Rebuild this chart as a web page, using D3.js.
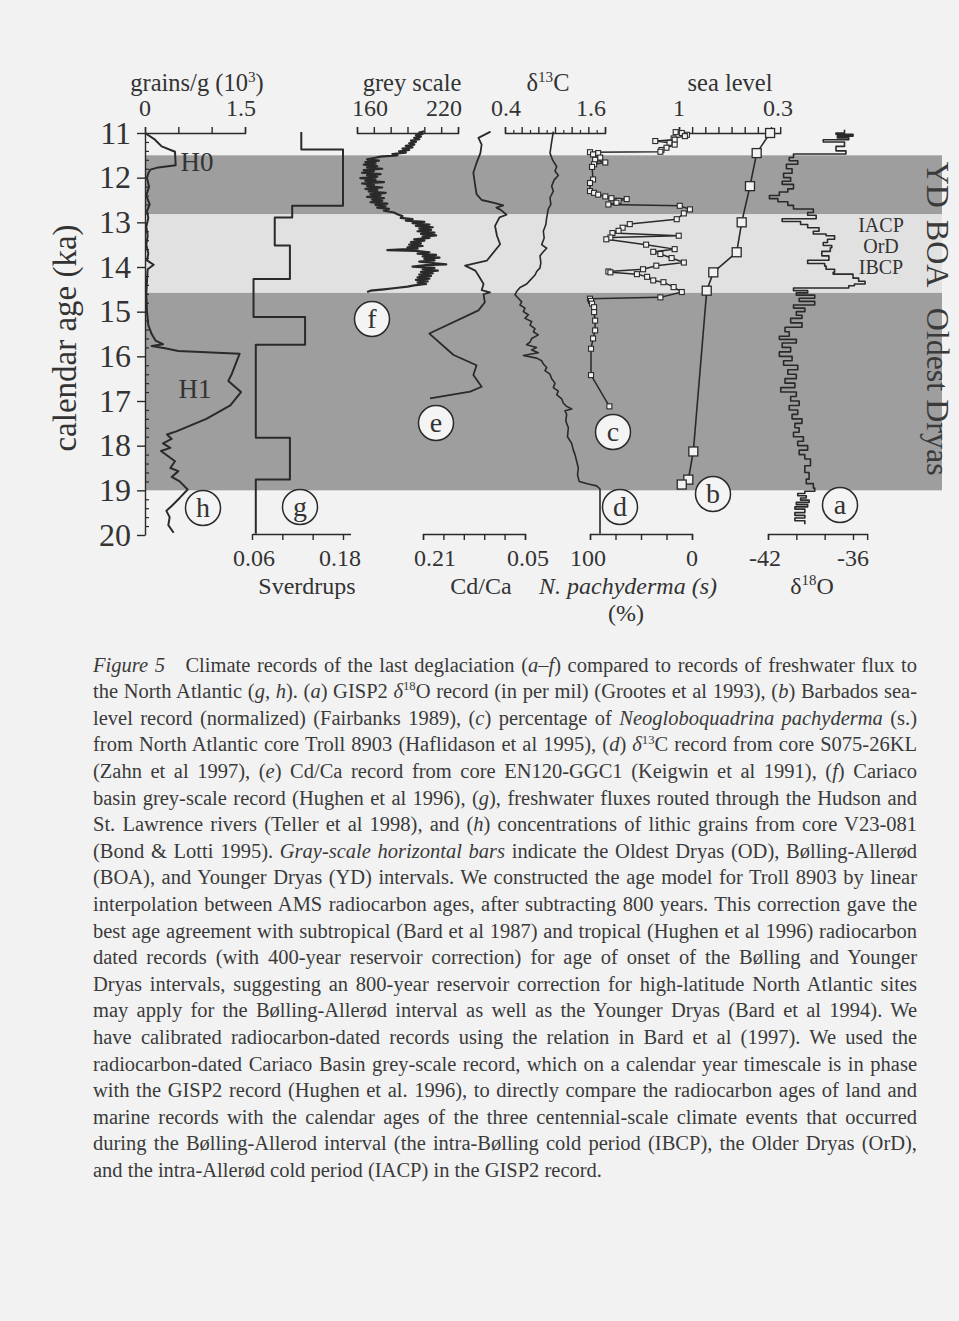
<!DOCTYPE html>
<html><head><meta charset="utf-8">
<script src="https://cdn.jsdelivr.net/npm/d3@7"></script>
<style>
html,body{margin:0;padding:0;background:#f2f2f2;}
svg{display:block;}
</style>
</head><body>
<svg id="chart" width="959" height="1321"></svg>
<script>
// ---------------- DATA ----------------
const ageTicks = [11,12,13,14,15,16,17,18,19,20];
const bandFrom = [11.5, 12.82, 14.58];
const bandTo   = [12.82, 14.58, 19.0];
const bandShade = ["dark","light","dark"];
const bandName = ["YD","BOA","Oldest Dryas"];
const events = ["IACP","OrD","IBCP"];

// (h) lithic grains, 10^3 grains/g  [age ka, value]
const grains = [[11.0,0],[11.15,0.15],[11.3,0.25],[11.42,0.45],[11.72,0.46],[11.77,0.2],[11.82,0.08],[11.9,0.05],[12.0,0.03],[12.2,0.06],[12.4,0.02],[12.6,0.07],[12.75,0.03],[12.9,0.05],[13.1,0.02],[13.3,0.04],[13.5,0.02],[13.7,0.05],[13.85,0.03],[13.95,0.13],[14.05,0.04],[14.3,0.03],[14.6,0.02],[15.0,0.03],[15.3,0.05],[15.5,0.1],[15.65,0.16],[15.73,0.27],[15.77,0.1],[15.82,0.3],[15.88,0.5],[15.94,1.42],[16.4,1.3],[16.55,1.25],[16.8,1.44],[17.1,1.28],[17.4,0.92],[17.68,0.47],[17.75,0.33],[17.85,0.4],[17.95,0.27],[18.05,0.38],[18.12,0.24],[18.35,0.45],[18.5,0.38],[18.57,0.5],[18.7,0.4],[18.8,0.52],[18.98,0.64],[19.17,0.52],[19.35,0.4],[19.46,0.32],[19.6,0.37],[19.78,0.35],[19.95,0.43]];
const grainsTicks = [0,0.5,1,1.5];
const grainsLabels = [0,1.5];

// (g) freshwater flux, Sverdrups (value holds until next age)
const sverdrups = [[10.98,0.125],[11.37,0.18],[12.63,0.113],[12.89,0.09],[13.52,0.11],[14.27,0.062],[15.12,0.13],[15.74,0.065],[17.82,0.11],[18.76,0.065],[19.97,0.065]];
const sverdrupTicks = [0.06,0.10,0.14,0.18];
const sverdrupLabels = [0.06,0.18];

// (f) Cariaco grey scale
const greyScale = [[10.96,200],[10.99,197],[11.02,199],[11.05,195],[11.08,198],[11.11,194],[11.14,197],[11.17,192],[11.2,195],[11.23,191],[11.26,194],[11.29,189],[11.32,193],[11.35,187],[11.38,191],[11.41,185],[11.44,189],[11.47,181],[11.5,184],[11.53,174],[11.56,170],[11.59,166],[11.62,173],[11.65,165],[11.68,171],[11.71,164],[11.74,172],[11.77,166],[11.8,175],[11.83,164],[11.86,170],[11.89,163],[11.92,174],[11.95,166],[11.98,172],[12.01,162],[12.04,171],[12.07,165],[12.1,176],[12.13,163],[12.16,170],[12.19,166],[12.22,175],[12.25,165],[12.28,172],[12.31,167],[12.34,177],[12.37,168],[12.4,174],[12.43,166],[12.46,176],[12.49,169],[12.52,175],[12.55,168],[12.58,178],[12.61,171],[12.64,177],[12.67,172],[12.7,179],[12.74,176],[12.78,182],[12.82,184],[12.86,187],[12.9,186],[12.93,193],[12.96,189],[12.99,200],[13.02,193],[13.05,203],[13.08,195],[13.11,205],[13.14,197],[13.17,204],[13.2,196],[13.23,206],[13.26,198],[13.29,207],[13.32,199],[13.35,203],[13.38,194],[13.41,200],[13.44,192],[13.47,198],[13.5,191],[13.53,199],[13.56,190],[13.59,196],[13.62,178],[13.64,195],[13.67,203],[13.7,196],[13.73,207],[13.76,199],[13.79,209],[13.82,200],[13.85,206],[13.88,197],[13.91,205],[13.94,213],[13.96,201],[13.99,193],[14.02,206],[14.05,199],[14.08,208],[14.11,198],[14.14,205],[14.17,197],[14.2,204],[14.23,196],[14.26,203],[14.29,195],[14.32,202],[14.35,196],[14.38,201],[14.41,194],[14.44,190],[14.47,183],[14.5,176],[14.53,168],[14.56,166]];
const greyTicks = [160,170,180,190,200,210,220];
const greyLabels = [160,220];

// (e) Cd/Ca
const cdca = [[10.97,0.104],[11.11,0.123],[11.26,0.118],[11.45,0.12],[11.67,0.126],[11.89,0.131],[12.19,0.128],[12.37,0.126],[12.5,0.118],[12.56,0.1],[12.62,0.084],[12.67,0.095],[12.72,0.088],[12.83,0.079],[12.89,0.09],[13.08,0.097],[13.3,0.094],[13.49,0.089],[13.86,0.11],[13.97,0.144],[14.08,0.128],[14.19,0.123],[14.38,0.115],[14.52,0.118],[14.57,0.105],[14.61,0.115],[14.79,0.113],[14.97,0.123],[15.49,0.2],[15.97,0.162],[16.2,0.126],[16.42,0.131],[16.68,0.118],[16.79,0.136],[16.94,0.199]];
const cdcaTicks = [0.21,0.178,0.146,0.114,0.082,0.05];
const cdcaLabels = [0.21,0.05];

// (d) delta13C
const d13c = [[10.97,0.98],[11.2,0.96],[11.45,0.94],[11.6,0.97],[11.75,1.02],[11.85,1.0],[11.95,1.04],[12.05,0.99],[12.19,0.96],[12.3,0.98],[12.45,0.94],[12.6,0.95],[12.7,0.92],[12.9,0.9],[13.05,0.89],[13.2,0.86],[13.35,0.87],[13.5,0.84],[13.58,0.9],[13.66,0.86],[13.75,0.82],[13.9,0.83],[14.02,0.82],[14.1,0.78],[14.18,0.76],[14.3,0.7],[14.38,0.66],[14.46,0.58],[14.55,0.54],[14.62,0.52],[14.7,0.56],[14.78,0.6],[14.85,0.58],[14.92,0.64],[15.0,0.62],[15.07,0.68],[15.15,0.64],[15.22,0.72],[15.3,0.7],[15.38,0.76],[15.45,0.74],[15.52,0.8],[15.6,0.72],[15.68,0.7],[15.74,0.66],[15.8,0.78],[15.86,0.72],[15.92,0.8],[15.98,0.62],[16.04,0.78],[16.1,0.84],[16.17,0.86],[16.25,0.9],[16.32,0.88],[16.4,0.94],[16.5,0.96],[16.6,1.0],[16.7,0.98],[16.78,1.04],[16.86,1.02],[16.95,1.08],[17.05,1.1],[17.12,1.14],[17.18,1.2],[17.22,1.12],[17.3,1.14],[17.45,1.13],[17.6,1.16],[17.8,1.15],[17.95,1.2],[18.1,1.22],[18.2,1.24],[18.35,1.26],[18.5,1.28],[18.65,1.27],[18.8,1.29],[18.86,1.4],[18.9,1.5],[18.97,1.54],[19.97,1.54]];
const d13cMajor = [0.4,0.6,0.8,1.0,1.2,1.4,1.6];
const d13cMinor = [0.5,0.7,0.9,1.1,1.3,1.5];
const d13cLabels = [0.4,1.6];

// (c) N. pachyderma (s) %
const pachy = [[10.98,16],[11.0,10],[11.04,5],[11.07,7],[11.12,18],[11.15,17],[11.18,36],[11.22,22],[11.26,17],[11.33,25],[11.38,30],[11.42,31],[11.43,100],[11.45,92],[11.48,97],[11.55,90],[11.6,95],[11.66,85],[11.7,96],[11.76,98],[12.04,97],[12.12,100],[12.3,100],[12.34,96],[12.38,92],[12.42,85],[12.46,79],[12.48,64],[12.52,72],[12.56,74],[12.6,82],[12.63,12],[12.71,2],[12.8,8],[12.93,15],[13.04,61],[13.12,68],[13.19,72],[13.24,78],[13.3,13],[13.34,80],[13.38,84],[13.5,45],[13.6,17],[13.66,38],[13.71,31],[13.8,20],[13.9,8],[13.97,35],[14.05,48],[14.1,82],[14.12,80],[14.16,54],[14.22,44],[14.3,38],[14.34,28],[14.45,18],[14.56,10],[14.68,31],[14.71,100],[14.76,99],[14.82,98],[14.9,96],[15.01,96],[15.2,95],[15.42,95],[15.6,97],[15.83,99],[16.42,99],[17.12,81]];
const pachyTicks = [100,75,50,25,0];
const pachyLabels = [100,0];

// (b) Barbados sea level (normalized)
const seaLevel = [[11.0,0.307],[11.45,0.409],[12.19,0.46],[13.0,0.523],[13.67,0.561],[14.12,0.739],[14.53,0.789],[18.13,0.891],[18.76,0.929],[18.87,0.979]];
const seaTicks = [1,0.9,0.8,0.7,0.6,0.5,0.4,0.3];
const seaLabels = [1,0.3];

// (a) GISP2 delta18O (value holds until next age)
const d18o = [[10.93,-36.6],[11.0,-37.2],[11.03,-36.0],[11.07,-37.1],[11.11,-36.3],[11.15,-38.1],[11.2,-36.6],[11.3,-37.2],[11.4,-36.5],[11.47,-40.2],[11.55,-40.5],[11.62,-39.9],[11.7,-40.7],[11.8,-40.3],[11.9,-40.9],[12.0,-40.4],[12.08,-41.0],[12.15,-40.2],[12.25,-40.6],[12.32,-41.2],[12.4,-41.9],[12.47,-41.3],[12.54,-40.6],[12.62,-40.2],[12.7,-38.8],[12.78,-39.2],[12.84,-38.6],[12.92,-41.0],[12.98,-39.7],[13.05,-39.2],[13.12,-38.4],[13.2,-38.8],[13.26,-37.9],[13.3,-37.3],[13.38,-37.8],[13.45,-38.1],[13.52,-37.5],[13.57,-37.6],[13.65,-38.2],[13.75,-37.7],[13.85,-39.2],[13.92,-38.0],[13.98,-37.9],[14.05,-37.3],[14.12,-37.4],[14.16,-36.0],[14.25,-35.6],[14.32,-35.15],[14.38,-35.9],[14.42,-36.3],[14.47,-40.2],[14.53,-39.2],[14.58,-40.0],[14.63,-38.7],[14.7,-39.8],[14.77,-38.7],[14.85,-40.2],[14.92,-39.4],[15.0,-40.0],[15.08,-39.6],[15.15,-40.4],[15.25,-39.6],[15.35,-40.8],[15.45,-40.5],[15.55,-41.2],[15.62,-40.0],[15.7,-41.0],[15.8,-40.4],[15.9,-41.2],[16.0,-40.3],[16.1,-40.9],[16.2,-39.9],[16.3,-40.6],[16.4,-40.0],[16.5,-40.8],[16.6,-40.1],[16.7,-41.1],[16.8,-40.0],[16.9,-40.4],[17.0,-39.8],[17.1,-40.5],[17.2,-39.9],[17.3,-40.3],[17.4,-39.6],[17.5,-40.1],[17.6,-39.8],[17.7,-40.2],[17.8,-39.5],[17.9,-39.9],[18.0,-39.2],[18.1,-39.8],[18.2,-39.4],[18.3,-39.0],[18.45,-39.4],[18.6,-39.1],[18.75,-39.3],[18.85,-38.8],[18.95,-38.7],[19.02,-39.4],[19.07,-39.9],[19.12,-39.3],[19.17,-39.7],[19.22,-39.1],[19.27,-40.0],[19.32,-39.2],[19.37,-40.1],[19.42,-39.4],[19.5,-40.1],[19.56,-39.4],[19.62,-40.1],[19.68,-39.4],[19.76,-39.4]];
const d18oTicks = [-42,-40,-38,-36];
const d18oLabels = [-42,-36];

// caption
const captionLines = [
 [["Figure 5","i"],["\u2003Climate records of the last deglaciation ("],["a\u2013f","i"],[") compared to records of freshwater flux to"]],
 [["the North Atlantic ("],["g, h","i"],["). ("],["a","i"],[") GISP2 "],["\u03b4","i"],["18","sup"],["O record (in per mil) (Grootes et al 1993), ("],["b","i"],[") Barbados sea-"]],
 [["level record (normalized) (Fairbanks 1989), ("],["c","i"],[") percentage of "],["Neogloboquadrina pachyderma","i"],[" (s.)"]],
 [["from North Atlantic core Troll 8903 (Haflidason et al 1995), ("],["d","i"],[") "],["\u03b4","i"],["13","sup"],["C record from core S075-26KL"]],
 [["(Zahn et al 1997), ("],["e","i"],[") Cd/Ca record from core EN120-GGC1 (Keigwin et al 1991), ("],["f","i"],[") Cariaco"]],
 [["basin grey-scale record (Hughen et al 1996), ("],["g","i"],["), freshwater fluxes routed through the Hudson and"]],
 [["St. Lawrence rivers (Teller et al 1998), and ("],["h","i"],[") concentrations of lithic grains from core V23-081"]],
 [["(Bond & Lotti 1995). "],["Gray-scale horizontal bars","i"],[" indicate the Oldest Dryas (OD), B\u00f8lling-Aller\u00f8d"]],
 [["(BOA), and Younger Dryas (YD) intervals. We constructed the age model for Troll 8903 by linear"]],
 [["interpolation between AMS radiocarbon ages, after subtracting 800 years. This correction gave the"]],
 [["best age agreement with subtropical (Bard et al 1987) and tropical (Hughen et al 1996) radiocarbon"]],
 [["dated records (with 400-year reservoir correction) for age of onset of the B\u00f8lling and Younger"]],
 [["Dryas intervals, suggesting an 800-year reservoir correction for high-latitude North Atlantic sites"]],
 [["may apply for the B\u00f8lling-Aller\u00f8d interval as well as the Younger Dryas (Bard et al 1994). We"]],
 [["have calibrated radiocarbon-dated records using the relation in Bard et al (1997). We used the"]],
 [["radiocarbon-dated Cariaco Basin grey-scale record, which on a calendar year timescale is in phase"]],
 [["with the GISP2 record (Hughen et al. 1996), to directly compare the radiocarbon ages of land and"]],
 [["marine records with the calendar ages of the three centennial-scale climate events that occurred"]],
 [["during the B\u00f8lling-Allerod interval (the intra-B\u00f8lling cold period (IBCP), the Older Dryas (OrD),"]],
 [["and the intra-Aller\u00f8d cold period (IACP) in the GISP2 record."]]
];

// ---------------- DRAWING ----------------
const FONT = "'Liberation Serif','Times New Roman',serif";
const ink = "#2a2a2a";
const txt = "#333";
const svg = d3.select("#chart");
svg.append("rect").attr("width",959).attr("height",1321).attr("fill","#f2f2f2");

const y = d3.scaleLinear().domain([11,20]).range([133,535]);
const xH = d3.scaleLinear().domain([0,1.5]).range([145,245]);
const xG = d3.scaleLinear().domain([0.06,0.18]).range([252,343]);
const xF = d3.scaleLinear().domain([160,220]).range([357,458]);
const xE = d3.scaleLinear().domain([0.21,0.05]).range([423,525]);
const xD = d3.scaleLinear().domain([0.4,1.6]).range([505,605]);
const xC = d3.scaleLinear().domain([100,0]).range([590,692]);
const xB = d3.scaleLinear().domain([1,0.3]).range([679,771]);
const xA = d3.scaleLinear().domain([-42,-36]).range([768,853]);

// bands
const bandRight = 942;
svg.append("g").selectAll("rect")
  .data(bandFrom.map((f,i)=>({f, t:bandTo[i], k:bandShade[i], n:bandName[i]})))
  .join("rect")
  .attr("x", xH(0)).attr("width", bandRight - xH(0))
  .attr("y", d=>y(d.f)).attr("height", d=>y(d.t)-y(d.f))
  .attr("fill", d=> d.k==="dark" ? "#9e9e9e" : "#e1e1e1");

// band names (vertical)
svg.append("g").selectAll("text")
  .data(bandFrom.map((f,i)=>({f, t:bandTo[i], n:bandName[i]})))
  .join("text")
  .attr("transform", d=>`translate(927,${(y(d.f)+y(d.t))/2}) rotate(90)`)
  .attr("text-anchor","middle")
  .attr("font-family",FONT).attr("font-size",32).attr("fill","#3a3a3a")
  .text(d=>d.n);

// y axis
const yAxisG = svg.append("g").attr("transform",`translate(${xH(0)},0)`)
  .attr("color",ink).attr("stroke-width",1.4)
  .call(d3.axisLeft(y).tickValues(ageTicks).tickSize(8).tickSizeOuter(0).tickPadding(6).tickFormat(d3.format("d")));
yAxisG.attr("font-family",FONT).attr("font-size",32);
yAxisG.selectAll("text").attr("fill",txt);
const minorAges = d3.range(11.2, 20, 0.2).filter(a => Math.abs(a-Math.round(a))>0.05);
svg.append("g").attr("transform",`translate(${xH(0)},0)`).attr("color",ink).attr("stroke-width",1.2)
  .call(d3.axisRight(y).tickValues(minorAges).tickSize(4).tickFormat(""))
  .call(g=>g.select(".domain").remove());

svg.append("text").attr("transform",`translate(76,${(y(11)+y(20))/2+4}) rotate(-90)`)
  .attr("text-anchor","middle").attr("font-family",FONT).attr("font-size",33).attr("fill",txt)
  .text("calendar age (ka)");

// horizontal axes
function hAxis(scale, ext, orient, yPos, ticks, len, outer, minor) {
  const s = scale.copy().domain(ext).range(ext.map(scale));
  const ax = (orient==="top" ? d3.axisTop(s) : d3.axisBottom(s))
     .tickValues(ticks).tickSize(len).tickSizeOuter(outer).tickFormat("");
  const g = svg.append("g").attr("transform",`translate(0,${yPos})`)
     .attr("color",ink).attr("stroke-width",1.4).call(ax);
  if (minor) {
    const ax2 = (orient==="top" ? d3.axisTop(s) : d3.axisBottom(s))
      .tickValues(minor).tickSize(3).tickFormat("");
    svg.append("g").attr("transform",`translate(0,${yPos})`)
      .attr("color",ink).attr("stroke-width",1.2).call(ax2)
      .call(g=>g.select(".domain").remove());
  }
  return g;
}
const yTop = y(11), yBot = y(20) - 1;
hAxis(xH, [0,1.5], "top", yTop, grainsTicks, 6, 6);
hAxis(xF, [160,220], "top", yTop, greyTicks, 6, 6);
hAxis(xD, [0.4,1.6], "top", yTop, d13cMajor, 6, 6, d13cMinor);
hAxis(xB, [1,0.23], "top", yTop, seaTicks, 6, 6);
hAxis(xG, [0.06,0.19], "bottom", yBot, sverdrupTicks, 6, 0);
hAxis(xE, [0.21,0.05], "bottom", yBot, cdcaTicks, 6, 6);
hAxis(xC, [100,0], "bottom", yBot, pachyTicks, 6, 6);
hAxis(xA, [-42,-35], "bottom", yBot, d18oTicks, 6, 6);

// tick labels
function tickLabels(scale, vals, offsets, yBase) {
  svg.append("g").selectAll("text").data(vals).join("text")
    .attr("x",(d,i)=>scale(d)+offsets[i]).attr("y",yBase)
    .attr("text-anchor","middle").attr("font-family",FONT).attr("font-size",24).attr("fill",txt)
    .text(d=>String(d));
}
tickLabels(xH, grainsLabels, [0,-4], 116);
tickLabels(xF, greyLabels, [13,-14], 116);
tickLabels(xD, d13cLabels, [1,-14], 116);
tickLabels(xB, seaLabels, [0,7], 116);
tickLabels(xG, sverdrupLabels, [2,-3], 566);
tickLabels(xE, cdcaLabels, [12,3], 566);
tickLabels(xC, pachyLabels, [-2,0], 566);
tickLabels(xA, d18oLabels, [-3,0], 566);

function rich(x, yb, parts, size, anchor) {
  const t = svg.append("text").attr("x",x).attr("y",yb).attr("text-anchor",anchor||"middle")
    .attr("font-family",FONT).attr("font-size",size).attr("fill",txt);
  let down = 0;
  parts.forEach(([s,st])=>{
    const sp = t.append("tspan").text(s);
    if (st==="sup") { sp.attr("font-size",size*0.62).attr("dy",-size*0.38); down = size*0.38; }
    else { if (down) { sp.attr("dy",down); down=0; } if (st==="i") sp.attr("font-style","italic"); }
  });
  return t;
}
// axis titles
rich(197, 91, [["grains/g (10"],["3","sup"],[")"]], 24.5);
rich(412, 91, [["grey scale"]], 24.5);
rich(548, 91, [["\u03b4"],["13","sup"],["C"]], 24.5);
rich(730, 91, [["sea level"]], 24.5);
rich(307, 594, [["Sverdrups"]], 24);
rich(481, 594, [["Cd/Ca"]], 24);
rich(628, 594, [["N. pachyderma (s)","i"]], 24);
rich(626, 621, [["(%)"]], 24);
rich(812, 594, [["\u03b4"],["18","sup"],["O"]], 24);

// traces
const lineOf = (xs, curve) => d3.line().x(d=>xs(d[1])).y(d=>y(d[0])).curve(curve||d3.curveLinear);
const traces = svg.append("g").attr("fill","none").attr("stroke",ink).attr("stroke-linejoin","round");
traces.append("path").attr("d", lineOf(xH)(grains)).attr("stroke-width",2);
traces.append("path").attr("d", lineOf(xG, d3.curveStepBefore)(sverdrups)).attr("stroke-width",2);
traces.append("path").attr("d", lineOf(xF)(greyScale)).attr("stroke-width",2.2);
traces.append("path").attr("d", lineOf(xE)(cdca)).attr("stroke-width",1.8);
traces.append("path").attr("d", lineOf(xD)(d13c)).attr("stroke-width",1.6);
traces.append("path").attr("d", lineOf(xC)(pachy)).attr("stroke-width",1.5);
traces.append("path").attr("d", lineOf(xB)(seaLevel)).attr("stroke-width",1.6);
traces.append("path").attr("d", lineOf(xA, d3.curveStepBefore)(d18o)).attr("stroke-width",1.6);

// markers
svg.append("g").selectAll("rect").data(pachy).join("rect")
  .attr("x",d=>xC(d[1])-2.5).attr("y",d=>y(d[0])-2.5).attr("width",5).attr("height",5)
  .attr("fill","#f2f2f2").attr("stroke",ink).attr("stroke-width",1.1);
svg.append("g").selectAll("rect").data(seaLevel).join("rect")
  .attr("x",d=>xB(d[1])-4.5).attr("y",d=>y(d[0])-4.5).attr("width",9).attr("height",9)
  .attr("fill","#f2f2f2").attr("stroke",ink).attr("stroke-width",1.3);

// annotation text
rich(197, 171, [["H0"]], 27);
rich(195, 398, [["H1"]], 27);
const evY = [232, 253, 274];
svg.append("g").selectAll("text").data(events).join("text")
  .attr("x",881).attr("y",(d,i)=>evY[i]).attr("text-anchor","middle")
  .attr("font-family",FONT).attr("font-size",20).attr("fill",txt).text(d=>d);

// circled panel letters
const tags = [["h",203,508],["g",300,507],["f",372,319],["e",436,423],["c",613,432],["d",620,507],["b",713,494],["a",840,505]];
const tg = svg.append("g");
tags.forEach(([l,cx,cy])=>{
  tg.append("circle").attr("cx",cx).attr("cy",cy).attr("r",17.5)
    .attr("fill","#f4f4f4").attr("stroke",ink).attr("stroke-width",1.5);
  tg.append("text").attr("x",cx).attr("y",cy+8.5).attr("text-anchor","middle")
    .attr("font-family",FONT).attr("font-size",28).attr("fill",txt).text(l);
});

// caption
const capX = 93, capRight = 917, capY0 = 671.5, capLH = 26.6;
captionLines.forEach((parts,i)=>{
  const t = rich(capX, capY0 + i*capLH, parts, 20.5, "start").attr("fill","#3a3a3a");
  if (i < captionLines.length-1) {
    const w = t.node().getComputedTextLength();
    const full = parts.map(p=>p[0]).join("");
    const n = (full.match(/ /g)||[]).length;
    if (n>0) t.attr("word-spacing", ((capRight-capX) - w)/n);
  }
});
</script>
</body></html>
